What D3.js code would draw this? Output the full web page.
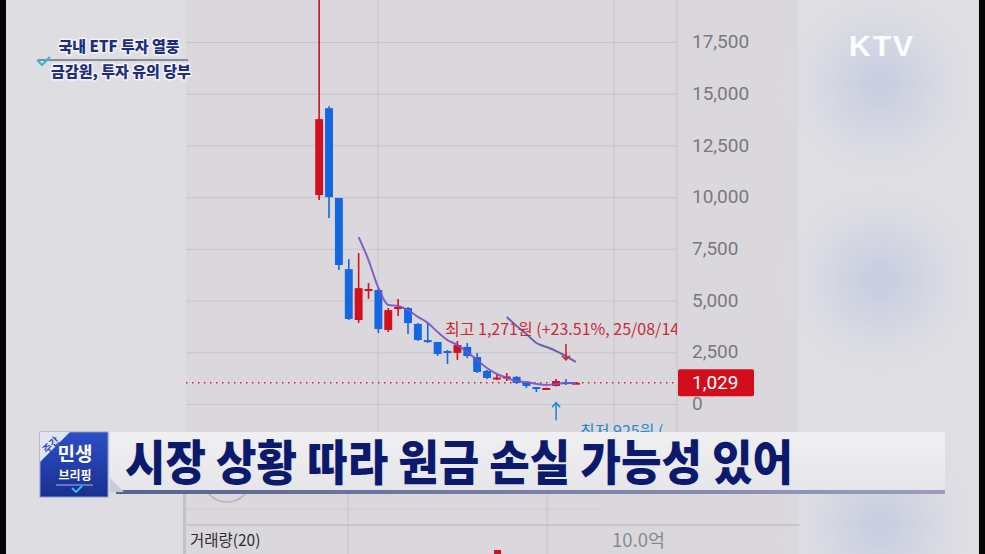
<!DOCTYPE html>
<html><head><meta charset="utf-8">
<script src="https://cdn.jsdelivr.net/npm/d3@7"></script>
<style>body{margin:0;background:#000;}svg{display:block}</style>
</head><body>
<svg id="c" width="985" height="554"></svg>
<script>
// ---- data ----
const days  = d3.range(27);
const open  = [10100,14300,9960,6520,4060,5460,5510,3580,4590,4640,3870,3090,3000,2560,2470,2760,2270,1600,1210,1260,1310,1015,820,750,870,1060,1000];
const close = [13770,10000,6720,4110,5600,5560,3620,4540,4690,3910,3090,3000,2420,2470,2850,2320,1550,1260,1280,1330,1015,870,725,775,1110,1015,1029];
const high  = [21000,14400,9960,7010,7300,5850,5560,4640,5080,4690,3920,3920,3000,2610,3050,2950,2470,1640,1400,1500,1350,1015,820,790,1210,1210,1045];
const low   = [9860,8990,6480,4060,3920,5080,3430,3480,4250,3380,3050,2950,2320,1930,2130,2220,1500,1210,1160,1110,970,770,580,740,850,920,995];
const maShort = [null,null,null,null,8070,6960,5610,4790,4740,4540,4210,3920,3480,3090,2850,2510,2130,1740,1450,1260,1110,1060,970,920,970,1015,1015];
const maLong  = [null,null,null,null,null,null,null,null,null,null,null,null,null,null,null,null,null,null,null,4205,3770,3380,2950,2760,2560,2320,2030];
const priceTicks = [0,2500,5000,7500,10000,12500,15000,17500];
const lastPrice = 1029;
const maxLabel = "최고 1,271원 (+23.51%, 25/08/14";
const minLabel = "최저 925원 (-";
const headline = "시장 상황 따라 원금 손실 가능성 있어";
const topTitle = ["국내 ETF 투자 열풍", "금감원, 투자 유의 당부"];
const volLabel = "거래량(20)";
const volTick = "10.0억";

const svg = d3.select("#c");
const defs = svg.append("defs");
const KR = "'Noto Sans CJK KR','Noto Sans',sans-serif";
const NUM = "Roboto,'Liberation Sans',sans-serif";

// ---- background ----
svg.append("rect").attr("width",985).attr("height",554).attr("fill","#dbd8dd");
svg.append("rect").attr("x",0).attr("width",186).attr("height",554).attr("fill","#dedde1");
const blob = defs.append("radialGradient").attr("id","blob");
blob.append("stop").attr("offset","0%").attr("stop-color","#bfc7df").attr("stop-opacity",0.85);
blob.append("stop").attr("offset","55%").attr("stop-color","#ccd1e2").attr("stop-opacity",0.45);
blob.append("stop").attr("offset","100%").attr("stop-color","#dcdce3").attr("stop-opacity",0);
const fx = defs.append("filter").attr("id","soft").attr("x","-50%").attr("y","-50%").attr("width","200%").attr("height","200%");
fx.append("feGaussianBlur").attr("stdDeviation",8);
svg.append("rect").attr("x",798).attr("width",181).attr("height",554).attr("fill","#dfdee3");
[[880,85],[880,280],[880,525]].forEach(([cx,cy])=>{
  svg.append("ellipse").attr("cx",cx).attr("cy",cy).attr("rx",100).attr("ry",100).attr("fill","url(#blob)").attr("filter","url(#soft)");
});

// ---- scales ----
const x = d3.scaleBand().domain(days).range([315.2, 579.8]).paddingInner(0.2);
const y = d3.scaleLinear().domain([0,17500]).range([404,42]);
const cx = i => x(i) + x.bandwidth()/2;
const plotL = 186, plotR = 677;

defs.append("clipPath").attr("id","plot").append("rect").attr("x",plotL).attr("y",0).attr("width",plotR-plotL).attr("height",432);

// grid
const grid = svg.append("g").attr("transform",`translate(${plotR},0)`)
  .call(d3.axisLeft(y).tickValues(priceTicks).tickSize(plotR-plotL).tickFormat(""));
grid.select(".domain").remove();
grid.selectAll("line").attr("stroke","#c8c4ca").attr("stroke-width",1);
svg.append("line").attr("x1",plotR).attr("x2",plotR).attr("y1",0).attr("y2",432).attr("stroke","#c8c4ca");
[378,614].forEach(v=>svg.append("line").attr("x1",v).attr("x2",v).attr("y1",0).attr("y2",432).attr("stroke","#c8c4ca"));

// axis labels
const ax = svg.append("g").attr("transform","translate(680,0)")
  .call(d3.axisRight(y).tickValues(priceTicks).tickSize(0).tickPadding(12).tickFormat(d3.format(",")));
ax.select(".domain").remove();
ax.selectAll("text").attr("font-family",NUM).attr("font-size",19).attr("fill","#7a797e").attr("dy","0.3em");

const plot = svg.append("g").attr("clip-path","url(#plot)");

// last price dotted line
plot.append("line").attr("x1",plotL).attr("x2",plotR).attr("y1",y(lastPrice)).attr("y2",y(lastPrice))
  .attr("stroke","#d3202c").attr("stroke-width",1.5).attr("stroke-dasharray","1.5,4.5");

// candles
const RED="#d40f1f", BLUE="#1467e0";
const col = i => close[i]>=open[i] ? RED : BLUE;
plot.selectAll(".wick").data(days).join("line")
  .attr("x1",cx).attr("x2",cx).attr("y1",i=>y(high[i])).attr("y2",i=>y(low[i]))
  .attr("stroke",col).attr("stroke-width",1.6);
plot.selectAll(".body").data(days).join("rect")
  .attr("x",i=>x(i)).attr("width",x.bandwidth())
  .attr("y",i=>y(Math.max(open[i],close[i])))
  .attr("height",i=>Math.max(2,Math.abs(y(open[i])-y(close[i]))))
  .attr("fill",col);

// moving averages
const line = arr => d3.line().defined(i=>arr[i]!=null).x(cx).y(i=>y(arr[i])).curve(d3.curveMonotoneX)(days);
plot.append("path").attr("d",line(maShort)).attr("fill","none").attr("stroke","#7654c6").attr("stroke-width",2).attr("opacity",0.9);
plot.append("path").attr("d",line(maLong)).attr("fill","none").attr("stroke","#5955ad").attr("stroke-width",2).attr("opacity",0.9);

// max marker
const mx = cx(25);
plot.append("line").attr("x1",mx).attr("x2",mx).attr("y1",y(2900)).attr("y2",y(2130)).attr("stroke","#d3202c").attr("stroke-width",1.6);
plot.append("path").attr("d",`M${mx-4},${y(2330)} L${mx},${y(2130)} L${mx+4},${y(2330)}`).attr("fill","none").attr("stroke","#d3202c").attr("stroke-width",1.6);
plot.append("text").attr("x",445).attr("y",y(3600)).attr("dy","0.35em").text(maxLabel)
  .attr("font-family",KR).attr("font-size",16).attr("fill","#c92a38");
// min marker
const nx = cx(24);
plot.append("line").attr("x1",nx).attr("x2",nx).attr("y1",y(-780)).attr("y2",y(60)).attr("stroke","#2588d6").attr("stroke-width",1.6);
plot.append("path").attr("d",`M${nx-4},${y(-150)} L${nx},${y(60)} L${nx+4},${y(-150)}`).attr("fill","none").attr("stroke","#2588d6").attr("stroke-width",1.6);
plot.append("text").attr("x",580).attr("y",y(-1340)).attr("dy","0.35em").text(minLabel)
  .attr("font-family",KR).attr("font-size",16).attr("fill","#2a86d0");

// last price box
svg.append("rect").attr("x",678).attr("y",y(lastPrice)-13.5).attr("width",76).attr("height",27).attr("rx",2).attr("fill","#d20d1c");
svg.append("text").attr("x",692).attr("y",y(lastPrice)).attr("dy","0.35em").text(d3.format(",")(lastPrice))
  .attr("font-family",NUM).attr("font-size",19).attr("fill","#fff");

// ---- volume pane (partially visible) ----
svg.append("circle").attr("cx",227).attr("cy",478).attr("r",24).attr("fill","none").attr("stroke","#b3b1b6").attr("stroke-width",1.5);
[348,547].forEach(v=>svg.append("line").attr("x1",v).attr("x2",v).attr("y1",493).attr("y2",554).attr("stroke","#c8c4ca"));
svg.append("line").attr("x1",186).attr("x2",598).attr("y1",509).attr("y2",509).attr("stroke","#cdc9cf");
svg.append("line").attr("x1",186).attr("x2",800).attr("y1",525).attr("y2",525).attr("stroke","#b5b3b8").attr("stroke-width",1.2);
svg.append("rect").attr("x",183).attr("y",493).attr("width",3).attr("height",61).attr("fill","#c4c2c7");
svg.append("text").attr("x",190).attr("y",541).attr("dy","0.35em").text(volLabel)
  .attr("font-family",KR).attr("font-size",15.5).attr("fill","#2e2e33");
svg.append("text").attr("x",612).attr("y",541).attr("dy","0.35em").text(volTick)
  .attr("font-family",KR).attr("font-size",18.5).attr("fill","#8a898e");
svg.append("rect").attr("x",494).attr("y",550).attr("width",7).attr("height",4).attr("fill","#d40f1f");

// ---- caption bar ----
const barG = defs.append("linearGradient").attr("id","barg").attr("x1",0).attr("x2",0).attr("y1",0).attr("y2",1);
barG.append("stop").attr("offset","0%").attr("stop-color","#f0f0f2");
barG.append("stop").attr("offset","100%").attr("stop-color","#e6e6ea");
svg.append("rect").attr("x",110).attr("y",432).attr("width",835).attr("height",58).attr("fill","url(#barg)");
const lineG = defs.append("linearGradient").attr("id","lineg");
lineG.append("stop").attr("offset","0%").attr("stop-color","#56648f");
lineG.append("stop").attr("offset","100%").attr("stop-color","#9d9cc0");
svg.append("rect").attr("x",116).attr("y",490).attr("width",829).attr("height",4).attr("fill","url(#lineg)");
svg.append("path").attr("d","M110,478 L124,492 L110,492 Z").attr("fill","#c9ccd8");
svg.append("text").attr("x",125).attr("y",463).attr("dy","0.36em").text(headline)
  .attr("font-family",KR).attr("font-weight",900).attr("font-size",48).attr("fill","#0c1a6d")
  .attr("textLength",668).attr("lengthAdjust","spacingAndGlyphs");

// logo
const lg = defs.append("linearGradient").attr("id","logog").attr("x1",0).attr("x2",0).attr("y1",0).attr("y2",1);
lg.append("stop").attr("offset","0%").attr("stop-color","#2c4fc6");
lg.append("stop").attr("offset","100%").attr("stop-color","#1a2f90");
svg.append("rect").attr("x",40).attr("y",432).attr("width",68).attr("height",65).attr("fill","url(#logog)").attr("stroke","#8e9cc8").attr("stroke-width",1);
svg.append("path").attr("d","M40,432 L70,432 L40,462 Z").attr("fill","#e2e5f1");
svg.append("text").attr("transform","translate(51,445) rotate(-45)").attr("text-anchor","middle").attr("dy","0.35em")
  .text("주간").attr("font-family",KR).attr("font-weight",700).attr("font-size",10).attr("fill","#2a4bbf");
svg.append("text").attr("x",75).attr("y",454).attr("text-anchor","middle").attr("dy","0.36em").text("민생")
  .attr("font-family",KR).attr("font-weight",700).attr("font-size",19).attr("fill","#fff");
svg.append("text").attr("x",75).attr("y",476).attr("text-anchor","middle").attr("dy","0.36em").text("브리핑")
  .attr("font-family",KR).attr("font-weight",700).attr("font-size",12).attr("fill","#fff");
svg.append("line").attr("x1",56).attr("x2",93).attr("y1",485).attr("y2",485).attr("stroke","#aebbe8").attr("stroke-width",1);
svg.append("path").attr("d","M72,488 L76,492 L82,486").attr("fill","none").attr("stroke","#39c0ee").attr("stroke-width",1.8);

// ---- top-left title ----
const tl = svg.append("g");
tl.append("line").attr("x1",38).attr("x2",188).attr("y1",60).attr("y2",60).attr("stroke","#6d6f80").attr("stroke-width",1.5);
tl.append("path").attr("d","M37,60 L42,65 L50,57").attr("fill","none").attr("stroke","#35b6e0").attr("stroke-width",2.2);
[[119,47,topTitle[0]],[121,72,topTitle[1]]].forEach(([tx,ty,t])=>{
  tl.append("text").attr("x",tx).attr("y",ty).attr("text-anchor","middle").attr("dy","0.36em").text(t)
    .attr("font-family",KR).attr("font-weight",900).attr("font-size",15).attr("fill","#1c2e7c")
    .attr("stroke","#f4f4f8").attr("stroke-width",3).attr("paint-order","stroke").attr("stroke-linejoin","round");
});

// KTV
svg.append("text").attr("x",882).attr("y",45).attr("text-anchor","middle").attr("dy","0.36em").text("KTV")
  .attr("font-family","'Liberation Sans',Arial,sans-serif").attr("font-weight",700).attr("font-size",30)
  .attr("letter-spacing",2).attr("fill","#fff");

// frame edges
svg.append("rect").attr("x",0).attr("width",6).attr("height",554).attr("fill","#050505");
svg.append("rect").attr("x",979).attr("width",6).attr("height",554).attr("fill","#050505");
</script>
</body></html>
